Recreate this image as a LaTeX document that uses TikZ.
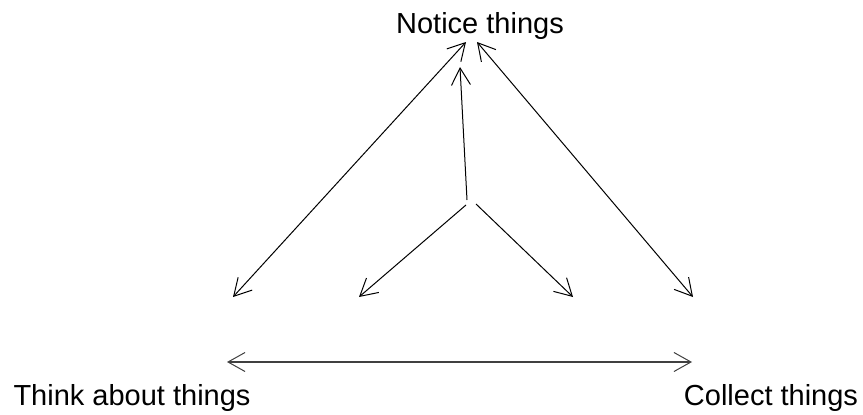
\documentclass[tikz,border=0pt]{standalone}
\usepackage{fontspec}
\setmainfont{Liberation Sans}
\usetikzlibrary{arrows.meta}
\begin{document}
\begin{tikzpicture}[x=1pt,y=-1pt,
  lbl/.style={font=\fontsize{29}{34}\selectfont, inner sep=0pt, anchor=base},
  tipv/.tip={Straight Barb[length=17pt,width=19pt,line width=1pt]},
  sarr/.style={line width=1pt, -{tipv}},
  darr/.style={line width=1pt, {tipv}-{tipv}}]
\useasboundingbox (0,0) rectangle (863,415);
\node[lbl] (notice) at (480,33) {Notice things};
\node[lbl] (think) at (132,405) {Think about things};
\node[lbl] (collect) at (771,405) {Collect things};
\coordinate (nl) at (466,42);
\coordinate (nr) at (477,42);
\coordinate (nc) at (460,67);
\coordinate (tl) at (233,297);
\coordinate (cr) at (693,297);
\coordinate (hub) at (467,200);
\coordinate (hubl) at (466,205);
\coordinate (hubr) at (476,204);
\coordinate (ml) at (359,297);
\coordinate (mr) at (573,297);
\coordinate (hl) at (227,362);
\coordinate (hr) at (692,362);
\draw[darr] (tl) -- (nl);
\draw[darr] (nr) -- (cr);
\draw[sarr] (hub) -- (nc);
\draw[sarr] (hubl) -- (ml);
\draw[sarr] (hubr) -- (mr);
\draw[darr, line width=1.4pt, draw=black!75] (hl) -- (hr);
\end{tikzpicture}
\end{document}
